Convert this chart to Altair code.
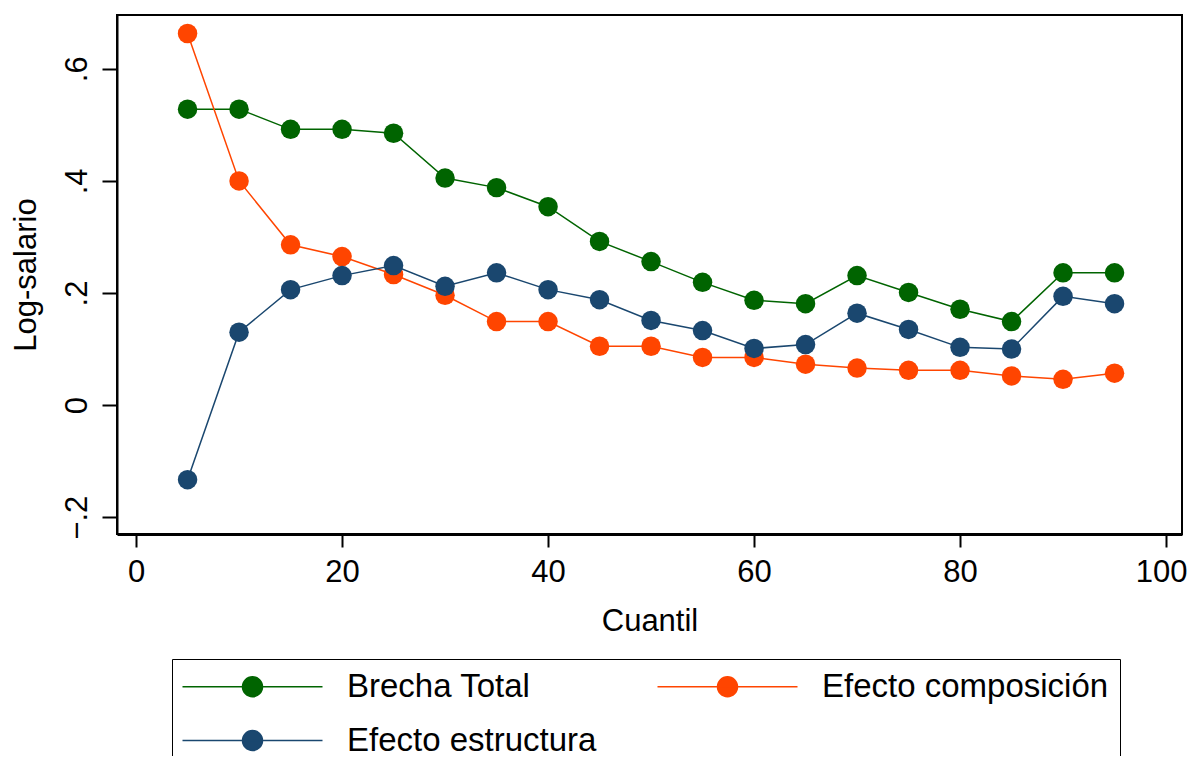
import altair as alt
import pandas as pd

cuantil = [5, 10, 15, 20, 25, 30, 35, 40, 45, 50, 55, 60, 65, 70, 75, 80, 85, 90, 95]
brecha_total = [0.528, 0.528, 0.492, 0.492, 0.485, 0.405, 0.388, 0.354, 0.292, 0.256,
                0.219, 0.187, 0.181, 0.231, 0.201, 0.171, 0.149, 0.236, 0.236]
efecto_composicion = [0.663, 0.400, 0.286, 0.265, 0.233, 0.196, 0.149, 0.149, 0.105, 0.105,
                      0.085, 0.085, 0.073, 0.066, 0.062, 0.062, 0.052, 0.046, 0.057]
efecto_estructura = [-0.133, 0.130, 0.206, 0.231, 0.249, 0.212, 0.236, 0.206, 0.188, 0.151,
                     0.133, 0.101, 0.108, 0.164, 0.135, 0.103, 0.100, 0.194, 0.181]

series_names = ["Brecha Total", "Efecto composición", "Efecto estructura"]
series_colors = ["#006400", "#FF4500", "#1A476F"]

rows = []
for name, vals in zip(series_names, [brecha_total, efecto_composicion, efecto_estructura]):
    for q, v in zip(cuantil, vals):
        rows.append({"Cuantil": q, "valor": v, "serie": name})
df = pd.DataFrame(rows)

FONT = "Arial, Liberation Sans, sans-serif"
SYMBOL = "M-1.7,0 L12.3,0 M4.3,0 A1,1 0 1,1 6.3,0 A1,1 0 1,1 4.3,0 Z"

x_enc = alt.X("Cuantil:Q",
              scale=alt.Scale(domain=[-1.85, 101.55], nice=False, zero=False),
              axis=alt.Axis(values=[0, 20, 40, 60, 80, 100], title="Cuantil", grid=False,
                            labelFontSize=31, titleFontSize=31, labelFont=FONT, titleFont=FONT,
                            labelColor="black", titleColor="black", titleFontWeight="normal",
                            tickSize=13, tickWidth=2, tickColor="black", labelPadding=10,
                            labelOffset={"condition": {"test": "datum.value == 100", "value": -5}, "value": 0},
                            titlePadding=19, domainColor="black", domainWidth=3, labelFlush=False))
y_enc = alt.Y("valor:Q",
              scale=alt.Scale(domain=[-0.230, 0.696], nice=False, zero=False),
              axis=alt.Axis(values=[-0.2, 0, 0.2, 0.4, 0.6], title="Log-salario", grid=False,
                            labelExpr="datum.value == 0 ? '0' : replace(format(datum.value, '.1f'), '0.', '.')",
                            labelAngle=270, labelAlign="center", labelBaseline="alphabetic",
                            labelFontSize=31, titleFontSize=31, labelFont=FONT, titleFont=FONT,
                            labelColor="black", titleColor="black", titleFontWeight="normal",
                            tickSize=15, tickWidth=2, tickColor="black", labelPadding=16,
                            titlePadding=19, domainColor="black", domainWidth=2, labelFlush=False))
legend = alt.Legend(title=None, orient="none", legendX=55, legendY=644,
                    columns=2, direction="horizontal", columnPadding=57, rowPadding=20,
                    symbolType=SYMBOL, symbolSize=400, symbolStrokeWidth=1.5,
                    symbolOpacity=1,
                    labelFontSize=33, labelFont=FONT, labelColor="black",
                    labelLimit=800, labelOffset=131, padding=11,
                    strokeColor="black", fillColor="white")
color_enc = alt.Color("serie:N",
                      scale=alt.Scale(domain=series_names, range=series_colors),
                      legend=legend)

base = alt.Chart(df)
lines = base.mark_line(strokeWidth=1.5).encode(x=x_enc, y=y_enc, color=color_enc)
points = base.mark_point(filled=True, size=380, opacity=1).encode(x=x_enc, y=y_enc, color=color_enc)

chart = (lines + points).properties(
    width=1065, height=519,
    autosize=alt.AutoSizeParams(type="none"),
    padding={"left": 109, "top": 7, "right": 7, "bottom": 222},
    background="white",
).configure_view(stroke="black", strokeWidth=2)

chart.save("out.html", embed_options={"renderer": "svg", "actions": False})
